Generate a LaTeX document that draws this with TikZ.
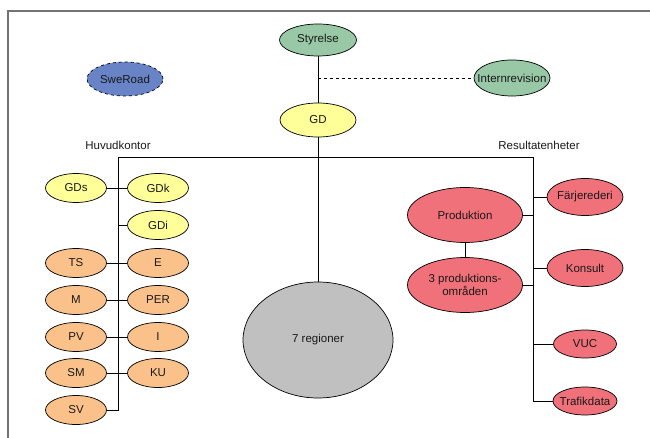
\documentclass[tikz,border=0pt]{standalone}
\usepackage{fontspec}
\setmainfont{Liberation Sans}
\usetikzlibrary{shapes.geometric}

\definecolor{boardgreen}{RGB}{152,200,166}
\definecolor{sweblue}{RGB}{104,132,198}
\definecolor{gdyellow}{RGB}{255,255,153}
\definecolor{hkorange}{RGB}{250,194,138}
\definecolor{resred}{RGB}{240,113,122}
\definecolor{reggray}{RGB}{192,192,192}

\tikzset{
  unit/.style={ellipse, draw, line width=0.7pt, inner xsep=-12pt, inner ysep=0pt,
    font=\fontsize{11.5}{13}\selectfont, text=black!90},
  small/.style={unit, minimum width=61pt, minimum height=29pt},
  link/.style={line width=0.8pt},
  frame/.style={line width=1.3pt, black!55}
}

\begin{document}
\begin{tikzpicture}[x=1pt,y=-1pt]

\useasboundingbox (0,0) rectangle (650,438);
\draw[frame] (650,11) -- (8,11) -- (8,438);

\node[unit, fill=boardgreen, minimum width=77, minimum height=32] (styrelse) at (318,40) {Styrelse};
\node[unit, fill=sweblue, dashed, minimum width=76, minimum height=34] (sweroad) at (125,79) {SweRoad};
\node[unit, fill=boardgreen, minimum width=76, minimum height=36] (internrev) at (512,78) {Internrevision};
\node[unit, fill=gdyellow, minimum width=76, minimum height=34] (gd) at (318,120) {GD};

\node[font=\fontsize{11.5}{13}\selectfont, text=black!90] (huvudkontor) at (118,145) {Huvudkontor};
\node[font=\fontsize{11.5}{13}\selectfont, text=black!90] (resultat) at (539,145) {Resultatenheter};

\node[small, fill=gdyellow] (gds) at (76,188) {GDs};
\node[small, fill=gdyellow] (gdk) at (158,188) {GDk};
\node[small, fill=gdyellow] (gdi) at (158,225) {GDi};
\node[small, fill=hkorange] (ts)  at (76,263)  {TS};
\node[small, fill=hkorange] (e)   at (158,263) {E};
\node[small, fill=hkorange] (m)   at (76,300)  {M};
\node[small, fill=hkorange] (per) at (158,300) {PER};
\node[small, fill=hkorange] (pv)  at (76,337)  {PV};
\node[small, fill=hkorange] (i)   at (158,337) {I};
\node[small, fill=hkorange] (sm)  at (76,373)  {SM};
\node[small, fill=hkorange] (ku)  at (158,373) {KU};
\node[small, fill=hkorange] (sv)  at (76,410)  {SV};

\node[unit, fill=reggray, minimum width=150, minimum height=116] (regioner) at (318,340) {7 regioner};

\node[unit, fill=resred, minimum width=115, minimum height=55] (produktion) at (465,215) {Produktion};
\node[unit, fill=resred, minimum width=115, minimum height=55, align=center] (omraden) at (465,285) {3 produktions-\\områden};
\node[unit, fill=resred, minimum width=76, minimum height=37] (farjerederi) at (585,197) {Färjerederi};
\node[unit, fill=resred, minimum width=76, minimum height=37] (konsult) at (585,268) {Konsult};
\node[unit, fill=resred, minimum width=63, minimum height=28] (vuc) at (585,344) {VUC};
\node[unit, fill=resred, minimum width=64, minimum height=28] (trafikdata) at (585,401) {Trafikdata};

\coordinate (hkbar) at (118,157);
\coordinate (resbar) at (533,157);
\coordinate (irv) at (styrelse.south |- internrev.west);

\draw[link] (styrelse) -- (gd);
\draw[link, dashed] (irv) -- (internrev);
\draw[link] (gd) -- (regioner);

\draw[link] (sv) -| (hkbar) -- (resbar) |- (trafikdata);

\draw[link] (gds) -- (gdk);
\draw[link] (gdi.west -| hkbar) -- (gdi);
\draw[link] (ts) -- (e);
\draw[link] (m) -- (per);
\draw[link] (pv) -- (i);
\draw[link] (sm) -- (ku);

\draw[link] (produktion) -- (omraden);
\draw[link] (produktion) -- (produktion -| resbar);
\draw[link] (omraden) -- (omraden -| resbar);
\draw[link] (farjerederi) -- (farjerederi -| resbar);
\draw[link] (konsult) -- (konsult -| resbar);
\draw[link] (vuc) -- (vuc -| resbar);

\end{tikzpicture}
\end{document}
